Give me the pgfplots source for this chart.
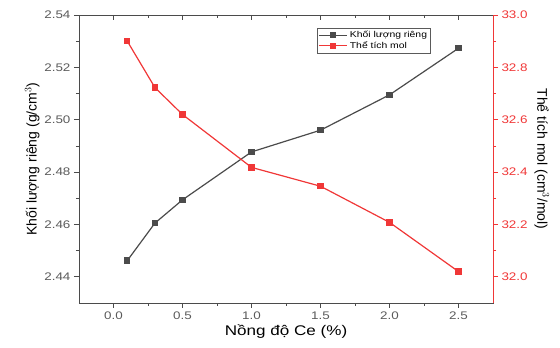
\documentclass[border=0pt]{standalone}
\usepackage{pgfplots}
\pgfplotsset{compat=1.18}
\usepackage{fontspec}
\setmainfont{Liberation Sans}
\newfontfamily\wide[FakeStretch=1.22]{Liberation Sans}
\definecolor{sgray}{RGB}{75,75,75}
\definecolor{sred}{RGB}{240,55,55}
\definecolor{tgray}{RGB}{90,90,90}
\begin{document}
\begin{tikzpicture}
\path[use as bounding box] (-79pt,-45pt) rectangle (481pt,303pt);
\begin{axis}[
  at={(0pt,0pt)}, anchor=south west,
  scale only axis, width=414pt, height=288pt,
  xmin=-0.25, xmax=2.75, ymin=2.43, ymax=2.54,
  xtick={0,0.5,...,2.5}, minor x tick num=1,
  ytick={2.44,2.46,...,2.541}, minor y tick num=1,
  xtick pos=bottom, ytick pos=left, tick align=outside,
  major tick length=5pt, minor tick length=3pt,
  /pgf/number format/assume math mode=true,
  xticklabel style={/pgf/number format/.cd,fixed,fixed zerofill,precision=1},
  yticklabel style={/pgf/number format/.cd,fixed,fixed zerofill,precision=2},
  ticklabel style={font=\wide\fontsize{11}{12}\selectfont, text=tgray},
  axis line style={sgray, line width=0.8pt},
  tick style={sgray, line width=0.8pt},
  xlabel={\wide Nồng độ Ce (\%)}, ylabel={Khối lượng riêng (g/cm$^3$)},
  label style={font=\fontsize{14}{16}\selectfont},
  xlabel style={yshift=1pt},
  ylabel style={yshift=-2pt},
  legend style={at={(0.575,0.955)}, anchor=north west, draw=tgray,
    font=\wide\fontsize{8.5}{9}\selectfont, inner sep=1pt, row sep=-1.5pt,
    legend cell align=left},
  legend image code/.code={\draw[mark repeat=2,mark phase=2,#1] plot coordinates {(0cm,0cm) (0.5cm,0cm) (1.0cm,0cm)};},
]
\addplot[sgray, line width=1.2pt, mark=square*, mark size=2.6pt] coordinates {
 (0.1,2.4462) (0.3,2.4605) (0.5,2.4694) (1.0,2.4877) (1.5,2.4960) (2.0,2.5095) (2.5,2.5273)};
\addlegendentry{Khối lượng riêng}
\addlegendimage{sred, line width=1.2pt, mark=square*, mark size=2.6pt}
\addlegendentry{Thể tích mol}
\end{axis}
\begin{axis}[
  at={(0pt,0pt)}, anchor=south west,
  scale only axis, width=414pt, height=288pt,
  xmin=-0.25, xmax=2.75, ymin=0, ymax=1,
  axis y line=none, axis x line*=top,
  xtick={0,0.5,...,2.5}, minor x tick num=1, xticklabels={},
  tick align=inside,
  major tick length=5pt, minor tick length=3pt,
  axis line style={sgray, line width=0.8pt, -},
  tick style={sgray, line width=0.8pt},
]
\addplot[draw=none] coordinates {(0,0)};
\end{axis}
\begin{axis}[
  at={(0pt,0pt)}, anchor=south west,
  scale only axis, width=414pt, height=288pt,
  xmin=-0.25, xmax=2.75, ymin=31.9, ymax=33.0,
  axis x line=none, axis y line*=right,
  ytick={32.0,32.2,...,33.01}, minor y tick num=1,
  tick align=outside,
  major tick length=5pt, minor tick length=3pt,
  /pgf/number format/assume math mode=true,
  yticklabel style={/pgf/number format/.cd,fixed,fixed zerofill,precision=1},
  ticklabel style={font=\wide\fontsize{11}{12}\selectfont, text=sred},
  axis line style={sred, line width=0.8pt, -},
  tick style={sred, line width=0.8pt},
  ylabel={Thể tích mol (cm$^3$/mol)},
  label style={font=\fontsize{14}{16}\selectfont},
  ylabel style={rotate=180},
]
\addplot[sred, line width=1.2pt, mark=square*, mark size=2.6pt] coordinates {
 (0.1,32.90) (0.3,32.723) (0.5,32.62) (1.0,32.418) (1.5,32.346) (2.0,32.208) (2.5,32.02)};
\end{axis}
\end{tikzpicture}
\end{document}
